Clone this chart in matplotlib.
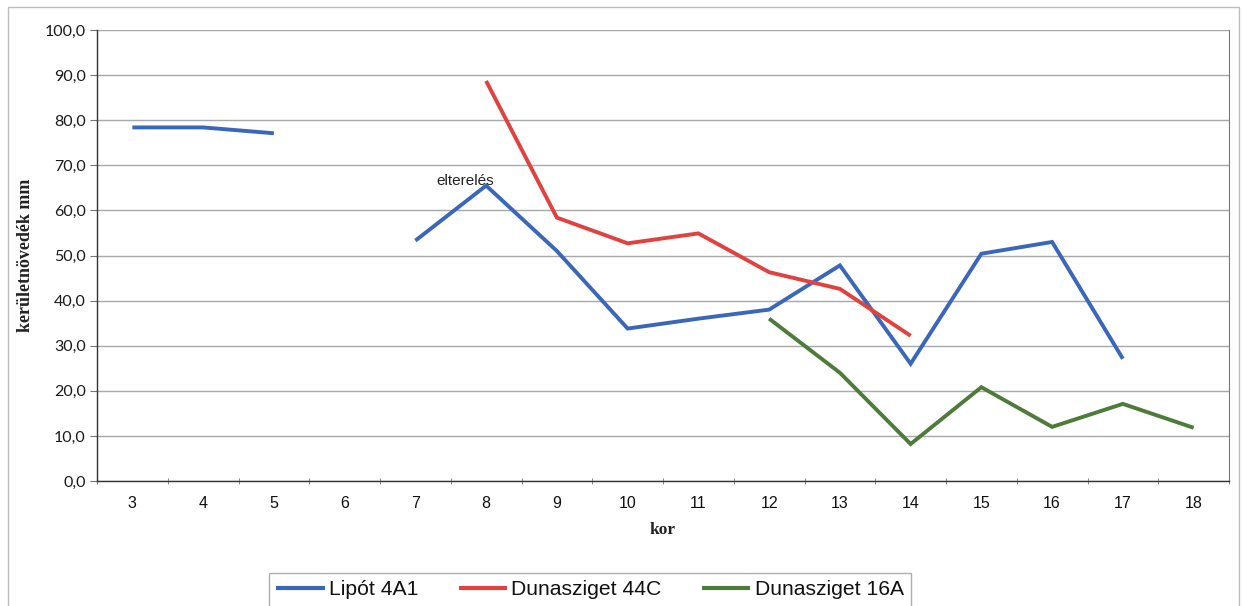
import numpy as np
import matplotlib
matplotlib.use("Agg")
import matplotlib.pyplot as plt
from matplotlib.patches import Rectangle

categories = ["3", "4", "5", "6", "7", "8", "9", "10", "11", "12", "13", "14", "15", "16", "17", "18"]
nan = np.nan
lipot_4a1 = [78.4, 78.4, 77.1, nan, 53.3, 65.5, 51.0, 33.8, 36.0, 38.0, 47.8, 26.0, 50.4, 53.0, 27.1, nan]
dunasziget_44c = [nan, nan, nan, nan, nan, 88.7, 58.4, 52.7, 54.9, 46.3, 42.6, 32.2, nan, nan, nan, nan]
dunasziget_16a = [nan, nan, nan, nan, nan, nan, nan, nan, nan, 36.0, 24.0, 8.2, 20.8, 12.0, 17.1, 11.8]
series_names = ["Lipót 4A1", "Dunasziget 44C", "Dunasziget 16A"]
series_colors = ["#3A67BA", "#E2423F", "#4E7B3A"]
y_ticks = [0, 10, 20, 30, 40, 50, 60, 70, 80, 90, 100]
annotation_text = "elterelés"

W, H = 1242, 606
fig = plt.figure(figsize=(W / 100, H / 100), dpi=100)
fig.patch.set_facecolor("white")

# outer frame of the chart area
fig.add_artist(Rectangle((8 / W, -0.05), (1239 - 8) / W, 1.05 - 7 / H,
                         transform=fig.transFigure, fill=False,
                         edgecolor="#BDBDBD", linewidth=1.0))

ax = fig.add_axes([97 / W, 1 - 481 / H, (1229 - 97) / W, (481 - 30) / H])

x = np.arange(len(categories))
all_series = [lipot_4a1, dunasziget_44c, dunasziget_16a]
lines = []
for vals, name, col in zip(all_series, series_names, series_colors):
    ln, = ax.plot(x, vals, color=col, linewidth=2.8, label=name,
                  solid_joinstyle="miter", solid_capstyle="butt")
    lines.append(ln)

ax.set_xlim(-0.5, len(categories) - 0.5)
ax.set_ylim(0, 100)
ax.set_yticks(y_ticks)
ax.set_yticklabels([f"{v:.1f}".replace(".", ",") for v in y_ticks],
                   fontfamily="Lato", fontsize=11.5, color="#1a1a1a")
ax.set_xticks(x)
ax.set_xticklabels(categories, fontfamily="Liberation Sans", fontsize=11.5, color="#111111")
ax.set_xticks(np.arange(-0.5, len(categories), 1.0), minor=True)
ax.tick_params(axis="x", which="major", length=0, pad=11)
ax.tick_params(axis="x", which="minor", length=4, direction="inout", color="#777777")
ax.tick_params(axis="y", which="major", length=5, direction="out", color="#777777", pad=3)

ax.grid(axis="y", color="#A8A8A8", linewidth=1.0)
ax.set_axisbelow(True)
for side in ["left", "bottom"]:
    ax.spines[side].set_color("#333333")
    ax.spines[side].set_linewidth(1.0)
ax.spines["right"].set_color("#777777")
ax.spines["top"].set_visible(False)

ax.set_ylabel("kerületnövedék mm", fontfamily="Liberation Serif", fontweight="bold",
              fontsize=13, color="#222222", labelpad=8)
ax.set_xlabel("kor", fontfamily="Liberation Serif", fontweight="bold",
              fontsize=12.5, color="#222222", labelpad=8)

ax.annotate(annotation_text, xy=(x[5], lipot_4a1[5]), xytext=(-15, 3),
            textcoords="offset points", ha="center", va="center",
            fontfamily="Liberation Sans", fontsize=11, color="#222222")

leg = fig.legend(handles=lines, labels=series_names, loc="upper left",
                 bbox_to_anchor=(269 / W, 1 - 573 / H), ncol=3,
                 prop={"family": "Liberation Sans", "size": 15.2},
                 frameon=True, fancybox=False, shadow=False,
                 handlelength=2.3, handletextpad=0.2, columnspacing=1.9,
                 borderpad=0.35, borderaxespad=0)
leg.get_frame().set_edgecolor("#9A9A9A")
leg.get_frame().set_linewidth(1.0)
for t in leg.get_texts():
    t.set_color("#111111")
for h in leg.get_lines():
    h.set_linewidth(3.0)

fig.savefig("out.png", dpi=100)
